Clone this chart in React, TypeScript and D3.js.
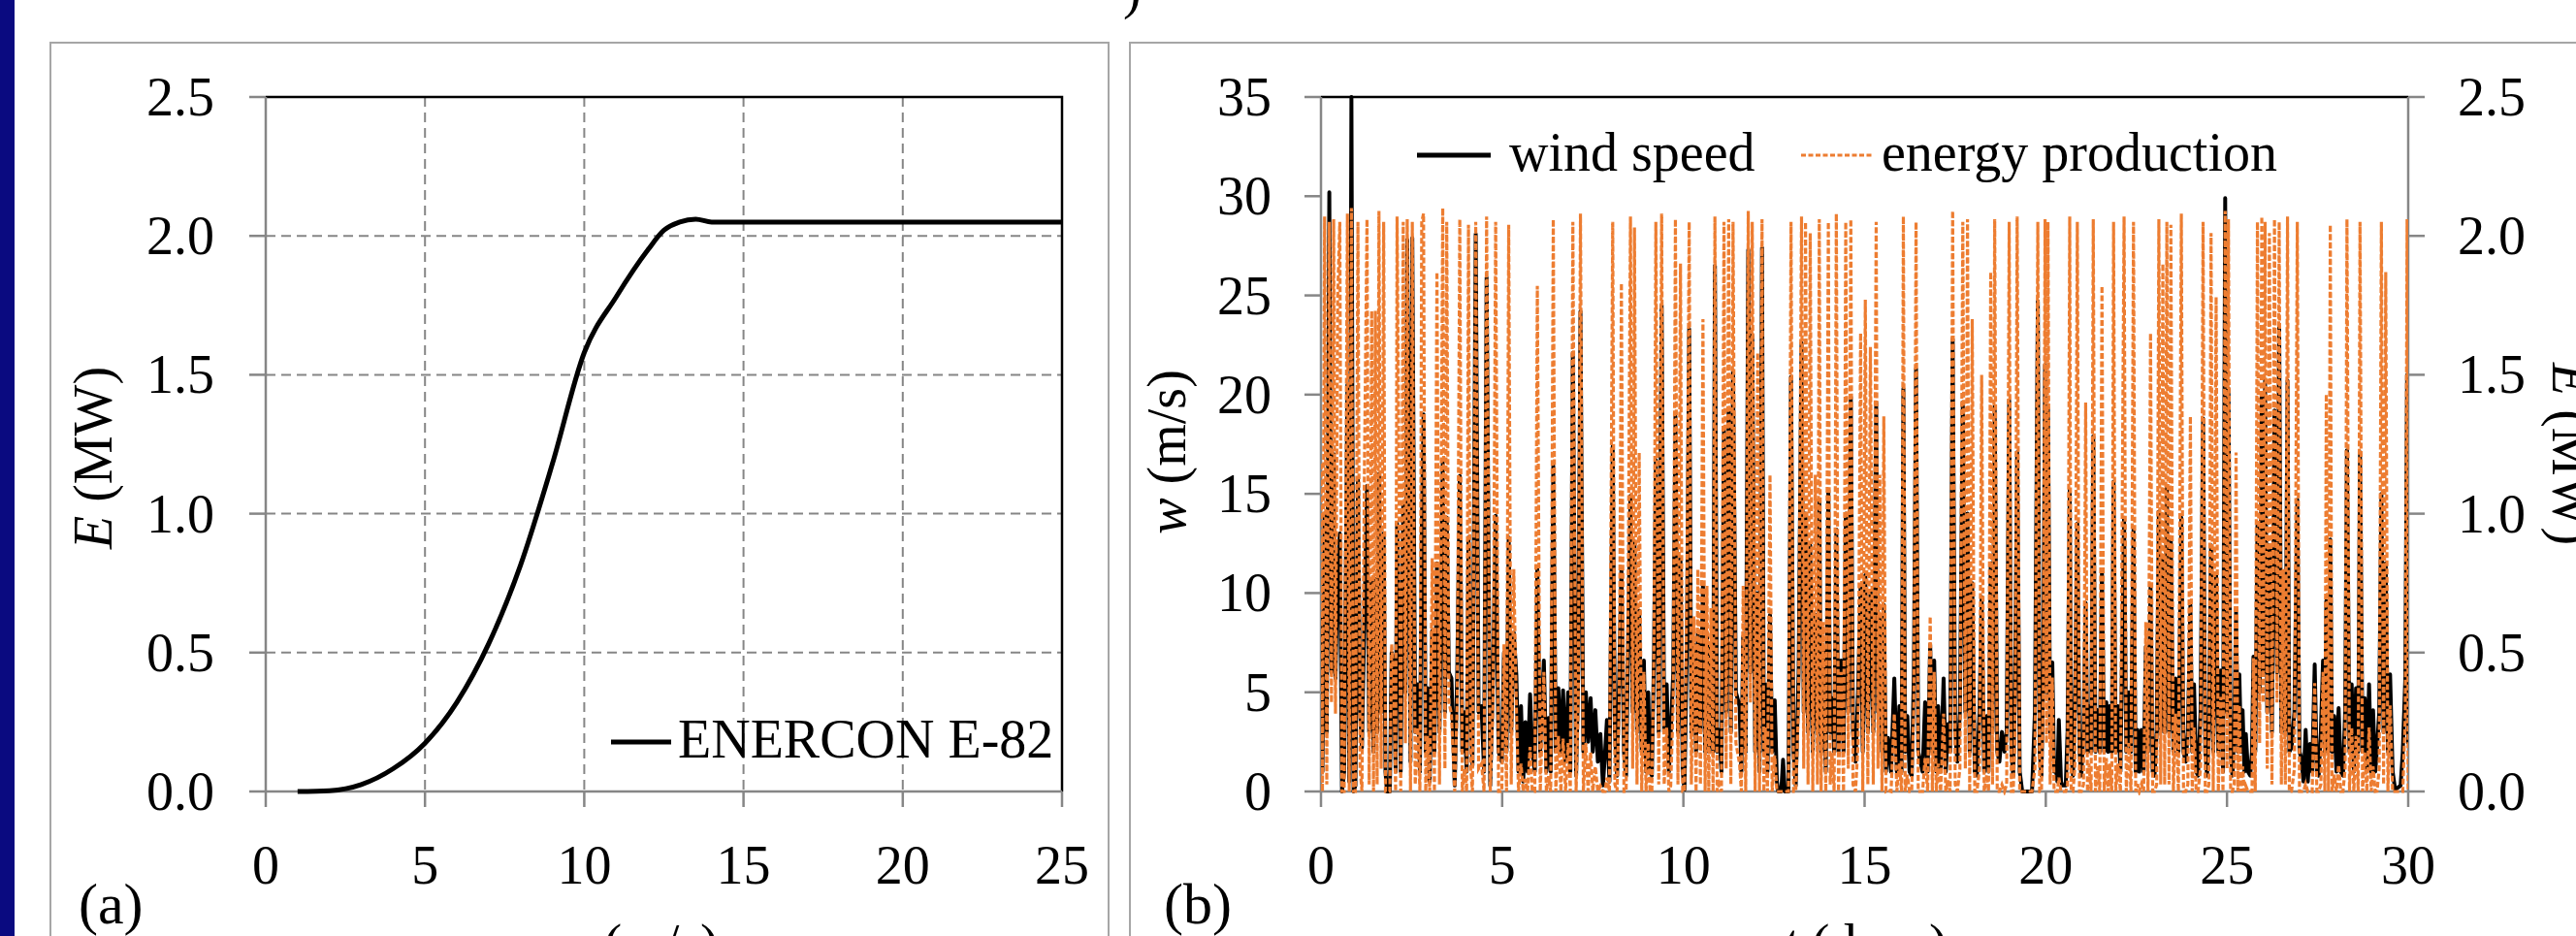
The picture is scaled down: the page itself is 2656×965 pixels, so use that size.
import React from 'react';
import * as d3 from 'd3';

// (a) ENERCON E-82 power curve
const curveSpeed = [1, 2, 3, 4, 5, 6, 7, 8, 9, 10, 11, 12, 12.5, 13, 13.5, 14, 15, 16, 17, 18, 19, 20, 21, 22, 23, 24, 25];
const curvePower = [0, 0.003, 0.025, 0.082, 0.174, 0.321, 0.532, 0.815, 1.18, 1.58, 1.78, 1.95, 2.02, 2.05, 2.06, 2.05, 2.05, 2.05, 2.05, 2.05, 2.05, 2.05, 2.05, 2.05, 2.05, 2.05, 2.05];

// (b) wind speed and energy production over 30 days (one row per day)
const days = [
  0.00, 0.04, 0.10, 0.16, 0.23, 0.29, 0.35, 0.40, 0.46, 0.52, 0.58, 0.64, 0.73, 0.78, 0.84, 0.90, 0.95,
  1.02, 1.08, 1.13, 1.20, 1.27, 1.33, 1.40, 1.45, 1.50, 1.55, 1.60, 1.66, 1.73, 1.78, 1.82, 1.90, 1.95,
  2.00, 2.06, 2.10, 2.15, 2.20, 2.27, 2.33, 2.38, 2.47, 2.52, 2.60, 2.67, 2.73, 2.78, 2.83, 2.89, 2.94,
  3.00, 3.07, 3.13, 3.20, 3.27, 3.36, 3.42, 3.47, 3.53, 3.60, 3.69, 3.76, 3.83, 3.90, 3.96,
  4.02, 4.07, 4.13, 4.18, 4.27, 4.35, 4.43, 4.50, 4.57, 4.67, 4.75, 4.82, 4.90, 4.99,
  5.05, 5.12, 5.18, 5.25, 5.32, 5.39, 5.45, 5.52, 5.58, 5.64, 5.70, 5.77, 5.83, 5.90, 5.97,
  6.05, 6.15, 6.22, 6.28, 6.34, 6.41, 6.48, 6.55, 6.62, 6.68, 6.75, 6.82, 6.88, 6.95,
  7.04, 7.10, 7.16, 7.24, 7.31, 7.37, 7.44, 7.50, 7.57, 7.64, 7.71, 7.78, 7.84, 7.89, 7.96,
  8.05, 8.11, 8.17, 8.23, 8.29, 8.36, 8.42, 8.48, 8.54, 8.60, 8.65, 8.72, 8.78, 8.85, 8.91, 8.97,
  9.03, 9.08, 9.13, 9.19, 9.24, 9.32, 9.40, 9.47, 9.54, 9.60, 9.65, 9.72, 9.78, 9.85, 9.92, 9.98,
  10.03, 10.10, 10.16, 10.22, 10.29, 10.35, 10.40, 10.47, 10.54, 10.60, 10.65, 10.70, 10.76, 10.82, 10.87, 10.93, 10.99,
  11.05, 11.12, 11.18, 11.25, 11.31, 11.37, 11.45, 11.55, 11.60, 11.65, 11.72, 11.79, 11.85, 11.90, 11.98,
  12.05, 12.10, 12.17, 12.22, 12.26, 12.32, 12.39, 12.45, 12.52, 12.58, 12.62, 12.70, 12.75, 12.80, 12.90, 12.97,
  13.04, 13.10, 13.18, 13.26, 13.32, 13.37, 13.44, 13.50, 13.57, 13.64, 13.70, 13.75, 13.80, 13.86, 13.93,
  14.00, 14.05, 14.10, 14.16, 14.22, 14.28, 14.35, 14.42, 14.48, 14.55, 14.62, 14.68, 14.75, 14.82, 14.89, 14.95,
  15.02, 15.09, 15.16, 15.24, 15.32, 15.37, 15.42, 15.48, 15.53, 15.59, 15.65, 15.73, 15.82, 15.89, 15.96,
  16.02, 16.07, 16.12, 16.18, 16.24, 16.30, 16.36, 16.42, 16.48, 16.54, 16.60, 16.67, 16.74, 16.81, 16.87, 16.92, 16.98,
  17.03, 17.10, 17.18, 17.24, 17.30, 17.36, 17.43, 17.50, 17.56, 17.63, 17.71, 17.78, 17.84, 17.90, 17.97,
  18.04, 18.10, 18.17, 18.23, 18.30, 18.37, 18.42, 18.48, 18.53, 18.59, 18.66, 18.72, 18.79, 18.86, 18.92, 18.99,
  19.05, 19.10, 19.15, 19.21, 19.28, 19.35, 19.45, 19.55, 19.62, 19.70, 19.78, 19.83, 19.88, 19.93, 19.98,
  20.02, 20.06, 20.12, 20.18, 20.23, 20.27, 20.32, 20.36, 20.42, 20.46, 20.55, 20.60, 20.66, 20.70, 20.75, 20.80, 20.87, 20.93, 20.98,
  21.04, 21.10, 21.15, 21.19, 21.25, 21.31, 21.37, 21.43, 21.49, 21.55, 21.61, 21.67, 21.72, 21.76, 21.82, 21.87, 21.93, 21.99,
  22.06, 22.16, 22.22, 22.29, 22.35, 22.42, 22.48, 22.53, 22.58, 22.64, 22.70, 22.76, 22.82, 22.89, 22.95,
  23.00, 23.06, 23.12, 23.17, 23.23, 23.28, 23.34, 23.40, 23.45, 23.52, 23.58, 23.66, 23.74, 23.80, 23.86, 23.92, 23.99,
  24.04, 24.09, 24.15, 24.20, 24.27, 24.34, 24.40, 24.45, 24.50, 24.56, 24.62, 24.70, 24.76, 24.83, 24.89, 24.95,
  25.00, 25.04, 25.10, 25.15, 25.20, 25.25, 25.30, 25.34, 25.39, 25.43, 25.48, 25.52, 25.58, 25.64, 25.69, 25.73, 25.78, 25.84, 25.90, 25.96,
  26.00, 26.05, 26.11, 26.17, 26.24, 26.31, 26.38, 26.44, 26.50, 26.55, 26.61, 26.67, 26.72, 26.78, 26.86, 26.94,
  27.00, 27.05, 27.11, 27.17, 27.23, 27.29, 27.35, 27.42, 27.48, 27.53, 27.59, 27.65, 27.70, 27.74, 27.80, 27.85, 27.90, 27.96,
  28.02, 28.08, 28.14, 28.20, 28.26, 28.31, 28.38, 28.44, 28.50, 28.56, 28.62, 28.67, 28.74, 28.80, 28.86, 28.92, 28.98,
  29.03, 29.09, 29.14, 29.20, 29.26, 29.32, 29.38, 29.44, 29.50, 29.57, 29.64, 29.72, 29.79, 29.85, 29.92, 29.97, 30.00,
];

const windSpeed = [
  9, 1, 14, 3, 30.2, 6, 17, 5.7, 11, 13, 0, 1, 20.5, 0.5, 35, 0, 0.3,
  15.7, 4, 2.2, 9, 15.4, 3, 10.7, 2, 10.7, 3, 16, 4, 13, 1, 0, 0, 7,
  6.6, 1, 13.5, 9, 1, 14.5, 5, 27.8, 1.5, 27.9, 3, 5.4, 1, 13, 19, 2, 5.2,
  0.5, 8.1, 2, 11.5, 3, 16.7, 4, 13.8, 6, 5.7, 0.3, 6, 15.9, 2, 4,
  1, 12.8, 4, 1.3, 28.1, 4, 4.3, 1, 25.9, 0.3, 6, 13.9, 2, 1.5,
  7, 2, 12.8, 3, 8, 5.9, 1, 4.3, 0.5, 3.5, 1, 4.9, 2, 1, 11.2,
  2, 6.6, 1, 3.7, 1, 16.4, 2, 5.2, 2, 5.1, 1.5, 5, 1, 22.1,
  0.8, 6, 24.2, 2, 5, 2.5, 4.7, 2, 4.1, 1.5, 2.9, 0.3, 2, 3.6, 0.5,
  17.4, 3, 0.8, 6, 11.3, 2, 0.8, 8, 14.9, 4, 12.6, 3, 9.1, 2, 6.6, 1,
  5, 1, 0.8, 7, 16.7, 3, 24.5, 3, 5.4, 1, 2.9, 6, 18.9, 3, 11.7, 1,
  0.1, 8, 23.3, 3, 7.4, 2, 8, 3, 10.5, 2, 7.8, 2, 7.5, 2, 26.5, 2, 3.1,
  1, 18.2, 4, 19.3, 3, 21.2, 5, 4.3, 1, 7.8, 2, 27.3, 6, 23, 2,
  10, 1, 27.4, 2, 5.4, 1, 8.9, 2, 4.6, 0.5, 0, 0, 1.6, 0, 0, 20.9,
  2, 0.3, 6, 22.6, 4, 14, 3, 12.4, 2, 8.9, 3, 14.6, 2, 7.3, 1,
  15.2, 3, 4.7, 2, 13.2, 2, 6.6, 2, 14, 4, 19.9, 3, 1.5, 5, 10.3, 2,
  10.9, 3, 10.1, 3, 19.6, 4, 8.9, 2, 9.4, 1, 2.7, 1, 5.7, 1, 4.3,
  1, 20.3, 2, 3.8, 1, 0.8, 6, 21.3, 2, 1.5, 1, 4.5, 1, 7.4, 2, 6.6, 1,
  4.3, 1, 5.7, 1, 3.4, 2, 22.8, 3, 1.5, 4, 19.6, 4, 14, 2, 10.5,
  1, 0.8, 4, 9.8, 1, 3.8, 1, 11.5, 3, 19.4, 2, 1.5, 3, 2, 3, 19.7,
  2, 0.8, 5, 17.1, 1, 0, 0, 0, 0, 4, 24.7, 2, 0.8, 6, 21.5,
  5, 19.3, 3, 6.5, 1, 1.3, 0.5, 3.6, 0.5, 0.3, 0.3, 3, 15.2, 2, 0.8, 4, 13.5, 2, 0.8,
  3, 9.5, 2, 4.3, 2, 17.9, 2, 4.1, 2, 11.2, 2, 4.5, 2, 4.3, 2, 15.6, 2, 4.3,
  1, 13.8, 2, 5, 2, 13.2, 1, 3.1, 1, 3.1, 1, 7.3, 2, 10.3, 1,
  0.8, 3, 14.1, 3, 11.7, 3, 15.4, 3, 12.8, 2, 5.7, 2, 13.8, 2, 1.5, 3, 9.4,
  2, 5.4, 1, 0.8, 4, 18.8, 2, 0.8, 3, 12.4, 2, 11, 2, 6.1, 1, 29.9,
  4, 20.3, 2, 0.8, 3, 9.1, 2, 5.9, 2, 4.1, 1, 2.9, 1, 0.8, 2, 6.8, 2, 13.4, 5, 20,
  6, 20.7, 4, 12.4, 3, 19.2, 6, 23.4, 3, 8, 3, 20.7, 2, 2.2, 4, 14.7,
  2, 1.7, 0.5, 3.1, 0.5, 2.4, 1, 6.4, 1, 0.8, 3, 6.6, 2, 9.6, 2, 12.7, 2, 3.8,
  1, 4.2, 1, 0.8, 4, 17.2, 2, 5.4, 1, 5.2, 2, 17.1, 2, 4.7, 1, 5.4, 1,
  4.1, 1, 2.2, 4, 15, 3, 11.5, 2, 5.9, 1, 0.1, 0.2, 0.3, 2, 5.7, 21, 2.4,
];

const energy = [
  1.18, 0, 2.07, 0.025, 2.05, 0.32, 2.06, 0.28, 1.78, 2.05, 0, 0, 2.08, 0, 2.1, 0, 0,
  2.05, 0.082, 0.001, 1.18, 2.06, 0.025, 1.73, 0, 1.73, 0.025, 2.09, 0.082, 2.05, 0, 0, 0, 0.53,
  0.43, 0, 2.07, 1.18, 0, 2.05, 0.174, 2.06, 0, 2.05, 0.025, 0.23, 0, 2.05, 2.08, 0, 0.2,
  0, 0.84, 0, 1.87, 0.025, 2.1, 0.082, 2.05, 0.32, 0.28, 0, 0.32, 2.06, 0, 0.082,
  0, 2.04, 0.082, 0, 2.05, 0.082, 0.1, 0, 2.07, 0, 0.32, 2.05, 0, 0,
  0.53, 0, 2.04, 0.025, 0.8, 0.31, 0, 0.1, 0, 0.045, 0, 0.16, 0, 0, 1.82,
  0, 0.43, 0, 0.055, 0, 2.06, 0, 0.2, 0, 0.19, 0, 0.174, 0, 2.05,
  0, 0.32, 2.08, 0, 0.174, 0.002, 0.14, 0, 0.09, 0, 0.02, 0, 0, 0.05, 0,
  2.05, 0.025, 0, 0.32, 1.83, 0, 0, 0.8, 2.07, 0.082, 2.03, 0.025, 1.22, 0, 0.43, 0,
  0.174, 0, 0, 0.53, 2.05, 0.025, 2.08, 0.025, 0.23, 0, 0.02, 0.32, 2.06, 0.025, 1.9, 0,
  0, 0.8, 2.05, 0.025, 0.63, 0, 0.8, 0.025, 1.7, 0, 0.74, 0, 0.66, 0, 2.07, 0, 0.027,
  0, 2.05, 0.082, 2.06, 0.025, 2.05, 0.174, 0.1, 0, 0.74, 0, 2.09, 0.32, 2.05, 0,
  1.58, 0, 2.06, 0, 0.23, 0, 1.14, 0, 0.13, 0, 0, 0, 0, 0, 0, 2.05,
  0, 0, 0.32, 2.07, 0.082, 2.05, 0.025, 2.01, 0, 1.14, 0.025, 2.06, 0, 0.61, 0,
  2.05, 0.025, 0.14, 0, 2.08, 0, 0.43, 0, 2.05, 0.082, 2.06, 0.025, 0, 0.174, 1.65, 0,
  1.77, 0.025, 1.6, 0.025, 2.05, 0.082, 1.14, 0, 1.35, 0, 0.004, 0, 0.28, 0, 0.1,
  0, 2.07, 0, 0.06, 0, 0, 0.32, 2.05, 0, 0, 0, 0.12, 0, 0.63, 0, 0.43, 0,
  0.1, 0, 0.28, 0, 0.04, 0, 2.09, 0.025, 0, 0.082, 2.05, 0.082, 2.06, 0, 1.7,
  0, 0, 0.082, 1.5, 0, 0.06, 0, 1.87, 0.025, 2.06, 0, 0, 0.025, 0, 0.025, 2.05,
  0, 0, 0.174, 2.07, 0, 0, 0, 0, 0, 0.082, 2.05, 0, 0, 0.32, 2.06,
  0.174, 2.05, 0.025, 0.41, 0, 0, 0, 0.05, 0, 0, 0, 0.025, 2.07, 0, 0, 0.082, 2.05, 0, 0,
  0.025, 1.4, 0, 0.1, 0, 2.06, 0, 0.09, 0, 1.82, 0, 0.12, 0, 0.1, 0, 2.05, 0, 0.1,
  0, 2.07, 0, 0.174, 0, 2.05, 0, 0.027, 0, 0.027, 0, 0.61, 0, 1.65, 0,
  0, 0.025, 2.06, 0.025, 1.9, 0.025, 2.05, 0.025, 2.04, 0, 0.28, 0, 2.08, 0, 0, 0.025, 1.35,
  0, 0.23, 0, 0, 0.082, 2.05, 0, 0, 0.025, 2.01, 0, 1.78, 0, 0.34, 0, 2.09,
  0.082, 2.06, 0, 0, 0.025, 1.22, 0, 0.31, 0, 0.09, 0, 0.02, 0, 0, 0, 0.48, 0, 2.05, 0.174, 2.07,
  0.32, 2.05, 0.082, 2.01, 0.025, 2.06, 0.32, 2.05, 0.025, 0.8, 0.025, 2.07, 0, 0.001, 0.082, 2.05,
  0, 0, 0, 0.027, 0, 0.002, 0, 0.39, 0, 0, 0.025, 0.43, 0, 1.43, 0, 2.04, 0, 0.06,
  0, 0.095, 0, 0, 0.082, 2.06, 0, 0.23, 0, 0.2, 0, 2.05, 0, 0.14, 0, 0.23, 0,
  0.09, 0, 0.001, 0.082, 2.05, 0.025, 1.87, 0, 0.31, 0, 0, 0, 0, 0, 0.28, 2.06, 0.002,
];

const powerTicks = [0, 0.5, 1, 1.5, 2, 2.5];
const speedTicks = [0, 5, 10, 15, 20, 25];
const windTicks = [0, 5, 10, 15, 20, 25, 30, 35];
const energyTicks = [0, 0.5, 1, 1.5, 2, 2.5];
const dayTicks = [0, 5, 10, 15, 20, 25, 30];

const FONT = '"Liberation Serif", "Times New Roman", serif';
const AXIS = '#868686';
const ORANGE = '#ED7D31';
const FS = 56;

const App = () => {
  const xA = d3.scaleLinear().domain([0, 25]).range([274, 1095]);
  const yA = d3.scaleLinear().domain([0, 2.5]).range([816, 100]);
  const xB = d3.scaleLinear().domain([0, 30]).range([1362, 2483]);
  const yW = d3.scaleLinear().domain([0, 35]).range([816, 100]);
  const yE = d3.scaleLinear().domain([0, 2.5]).range([816, 100]);
  const fmt = d3.format('.1f');

  const powerLine = d3.line<number>()
    .x((_, i) => xA(curveSpeed[i]))
    .y(d => yA(d))
    .curve(d3.curveMonotoneX);
  const windLine = d3.line<number>().x((_, i) => xB(days[i])).y(d => yW(d));
  const energyLine = d3.line<number>().x((_, i) => xB(days[i])).y(d => yE(d));

  return (
    <svg width={2656} height={965} style={{ position: 'absolute', left: 0, top: 0, background: '#fff' }}
      fontFamily={FONT} fontSize={FS}>
      <defs>
        <clipPath id="plotB"><rect x={1362} y={98} width={1121} height={722} /></clipPath>
      </defs>
      <rect x={0} y={0} width={2656} height={965} fill="#fff" />
      <rect x={0} y={0} width={15} height={965} fill="#0a0a80" />
      <text x={1158} y={8}>)</text>

      {/* panel (a) */}
      <rect x={52} y={44} width={1091} height={960} fill="none" stroke="#a6a6a6" strokeWidth={2} />
      {powerTicks.slice(1, -1).map(t => (
        <line key={'gy' + t} x1={274} x2={1095} y1={yA(t)} y2={yA(t)} stroke={AXIS} strokeWidth={2} strokeDasharray="10,6" />
      ))}
      {speedTicks.slice(1, -1).map(t => (
        <line key={'gx' + t} x1={xA(t)} x2={xA(t)} y1={100} y2={816} stroke={AXIS} strokeWidth={2} strokeDasharray="10,6" />
      ))}
      <path d={`M274,100H1095V816`} fill="none" stroke="#000" strokeWidth={2.5} />
      <line x1={274} x2={274} y1={100} y2={816} stroke={AXIS} strokeWidth={2.5} />
      <line x1={274} x2={1095} y1={816} y2={816} stroke={AXIS} strokeWidth={2.5} />
      {powerTicks.map(t => (
        <g key={'ya' + t}>
          <line x1={257} x2={274} y1={yA(t)} y2={yA(t)} stroke={AXIS} strokeWidth={2.5} />
          <text x={221} y={yA(t) + 19} textAnchor="end">{fmt(t)}</text>
        </g>
      ))}
      {speedTicks.map(t => (
        <g key={'xa' + t}>
          <line x1={xA(t)} x2={xA(t)} y1={816} y2={832} stroke={AXIS} strokeWidth={2.5} />
          <text x={xA(t)} y={911} textAnchor="middle">{t}</text>
        </g>
      ))}
      <path d={powerLine(curvePower) || ''} fill="none" stroke="#000" strokeWidth={5} />
      <line x1={630} x2={692} y1={765} y2={765} stroke="#000" strokeWidth={5} />
      <text x={699} y={781}>ENERCON E-82</text>
      <text transform="translate(115,472) rotate(-90)" textAnchor="middle">
        <tspan fontStyle="italic">E</tspan> (MW)
      </text>
      <text x={656} y={992} textAnchor="middle">
        <tspan fontStyle="italic">w</tspan> (m/s)
      </text>
      <text x={81} y={952} fontSize={60}>(a)</text>

      {/* panel (b) */}
      <path d="M1165,1010V44H2660" fill="none" stroke="#a6a6a6" strokeWidth={2} />
      <line x1={1362} x2={2483} y1={100} y2={100} stroke="#000" strokeWidth={2.5} />
      <line x1={1362} x2={1362} y1={100} y2={816} stroke={AXIS} strokeWidth={2.5} />
      <line x1={2483} x2={2483} y1={100} y2={816} stroke={AXIS} strokeWidth={2.5} />
      <line x1={1362} x2={2483} y1={816} y2={816} stroke={AXIS} strokeWidth={2.5} />
      {windTicks.map(t => (
        <g key={'yw' + t}>
          <line x1={1345} x2={1362} y1={yW(t)} y2={yW(t)} stroke={AXIS} strokeWidth={2.5} />
          <text x={1311} y={yW(t) + 19} textAnchor="end">{t}</text>
        </g>
      ))}
      {energyTicks.map(t => (
        <g key={'ye' + t}>
          <line x1={2483} x2={2500} y1={yE(t)} y2={yE(t)} stroke={AXIS} strokeWidth={2.5} />
          <text x={2534} y={yE(t) + 19}>{fmt(t)}</text>
        </g>
      ))}
      {dayTicks.map(t => (
        <g key={'xd' + t}>
          <line x1={xB(t)} x2={xB(t)} y1={816} y2={832} stroke={AXIS} strokeWidth={2.5} />
          <text x={xB(t)} y={911} textAnchor="middle">{t}</text>
        </g>
      ))}
      <g clipPath="url(#plotB)">
        <path d={windLine(windSpeed) || ''} fill="none" stroke="#000" strokeWidth={4} strokeLinejoin="round" />
        <path d={energyLine(energy) || ''} fill="none" stroke={ORANGE} strokeWidth={3.2} strokeDasharray="6,2.5" />
      </g>
      <line x1={1461} x2={1537} y1={160} y2={160} stroke="#000" strokeWidth={5} />
      <text x={1556} y={176}>wind speed</text>
      <line x1={1857} x2={1931} y1={160} y2={160} stroke={ORANGE} strokeWidth={2.8} strokeDasharray="5,2.5" />
      <text x={1940} y={176}>energy production</text>
      <text transform="translate(1222,466) rotate(-90)" textAnchor="middle">
        <tspan fontStyle="italic">w</tspan> (m/s)
      </text>
      <text transform="translate(2632,468) rotate(90)" textAnchor="middle">
        <tspan fontStyle="italic">E</tspan> (MW)
      </text>
      <text x={1923} y={992} textAnchor="middle">
        <tspan fontStyle="italic">t</tspan> (days)
      </text>
      <text x={1200} y={952} fontSize={60}>(b)</text>
    </svg>
  );
};

export default App;
